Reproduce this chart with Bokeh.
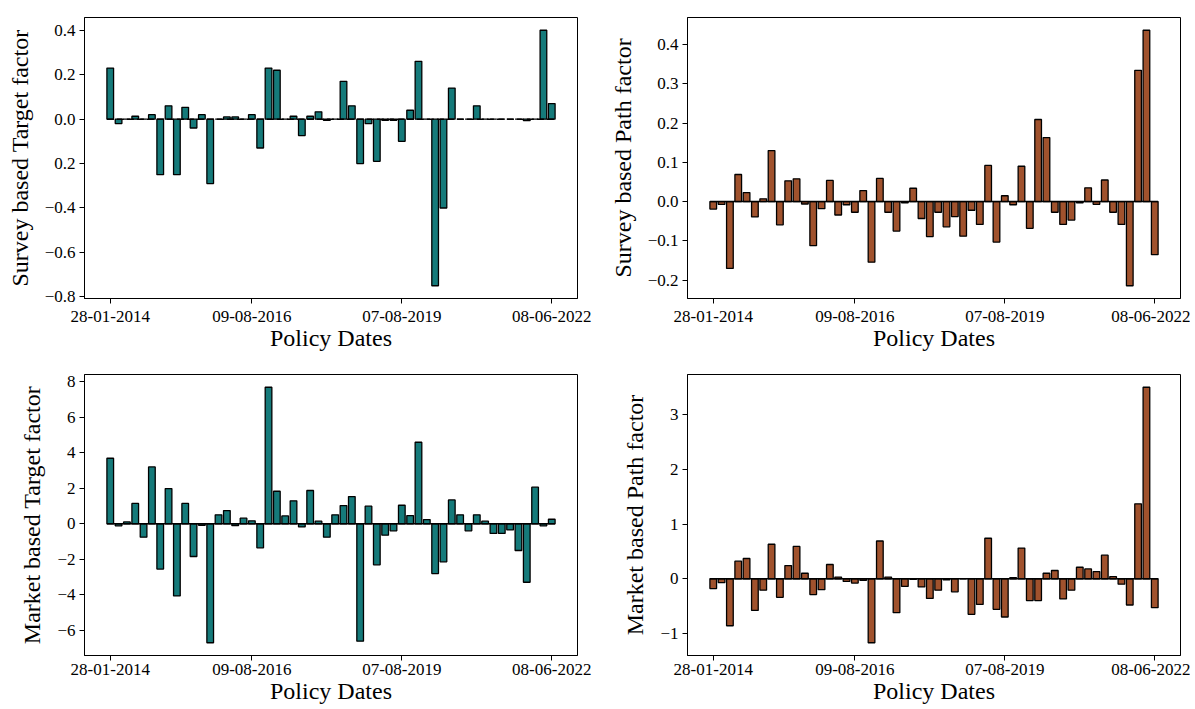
from bokeh.plotting import figure
from bokeh.layouts import column, row
from bokeh.models import Range1d, FixedTicker
from bokeh.embed import file_html
from bokeh.resources import INLINE

# ---- data -------------------------------------------------------------
date_tick_idx = [0, 17, 35, 53]
date_tick_labels = ["28-01-2014", "09-08-2016", "07-08-2019", "08-06-2022"]

survey_target = [0.23, -0.02, 0.0, 0.013, 0.0, 0.02, -0.25, 0.06, -0.25, 0.053,
                 -0.04, 0.02, -0.29, 0.0, 0.01, 0.01, 0.0, 0.02, -0.13, 0.23,
                 0.22, 0.0, 0.013, -0.074, 0.013, 0.033, -0.006, 0.0, 0.17, 0.06,
                 -0.20, -0.02, -0.19, -0.005, -0.005, -0.10, 0.04, 0.26, 0.0, -0.75,
                 -0.40, 0.14, 0.0, 0.0, 0.06, 0.0, 0.0, 0.0, 0.0, 0.0,
                 -0.007, 0.0, 0.40, 0.07]

survey_path = [-0.019, -0.007, -0.17, 0.069, 0.023, -0.039, 0.007, 0.13, -0.059, 0.053,
               0.058, -0.006, -0.112, -0.018, 0.054, -0.034, -0.008, -0.027, 0.028, -0.154,
               0.059, -0.027, -0.075, -0.003, 0.034, -0.043, -0.089, -0.027, -0.064, -0.038,
               -0.088, -0.022, -0.058, 0.092, -0.103, 0.015, -0.008, 0.09, -0.068, 0.209,
               0.163, -0.027, -0.058, -0.047, -0.003, 0.035, -0.007, 0.055, -0.027, -0.058,
               -0.214, 0.334, 0.436, -0.135]

market_target = [3.70, -0.11, 0.11, 1.15, -0.75, 3.21, -2.55, 1.99, -4.06, 1.15,
                 -1.84, -0.08, -6.70, 0.51, 0.75, -0.10, 0.32, 0.17, -1.35, 7.70,
                 1.84, 0.45, 1.30, -0.17, 1.88, 0.15, -0.75, 0.51, 1.03, 1.54,
                 -6.61, 1.00, -2.31, -0.64, -0.39, 1.05, 0.47, 4.60, 0.24, -2.80,
                 -2.14, 1.35, 0.51, -0.39, 0.51, 0.15, -0.54, -0.54, -0.34, -1.50,
                 -3.29, 2.07, -0.11, 0.26]

market_path = [-0.18, -0.07, -0.86, 0.32, 0.37, -0.58, -0.21, 0.63, -0.34, 0.24,
               0.59, 0.10, -0.29, -0.20, 0.26, 0.03, -0.05, -0.08, -0.03, -1.17,
               0.69, 0.03, -0.62, -0.14, -0.01, -0.15, -0.36, -0.21, -0.02, -0.24,
               0.0, -0.65, -0.47, 0.74, -0.56, -0.70, 0.02, 0.56, -0.40, -0.40,
               0.10, 0.15, -0.37, -0.21, 0.21, 0.18, 0.13, 0.43, 0.04, -0.10,
               -0.48, 1.37, 3.50, -0.53]

st_ticks = [0.4, 0.2, 0.0, -0.2, -0.4, -0.6, -0.8]
st_labels = ["0.4", "0.2", "0.0", "0.2", "\u22120.4", "\u22120.6", "\u22120.8"]
sp_ticks = [0.4, 0.3, 0.2, 0.1, 0.0, -0.1, -0.2]
sp_labels = ["0.4", "0.3", "0.2", "0.1", "0.0", "\u22120.1", "\u22120.2"]
mt_ticks = [8, 6, 4, 2, 0, -2, -4, -6]
mt_labels = ["8", "6", "4", "2", "0", "\u22122", "\u22124", "\u22126"]
mp_ticks = [3, 2, 1, 0, -1]
mp_labels = ["3", "2", "1", "0", "\u22121"]

TEAL = "#157a7a"
SIENNA = "#a0522d"
FONT = "Liberation Serif"
BAR_W = 0.8


def make(vals, color, ylabel, yticks, ylabels, dashed, left, right, top, bottom,
         xstand, width, height):
    idx = list(range(len(vals)))
    lo, hi = min(vals), max(vals)
    m = (hi - lo) * 0.05
    xlo, xhi = idx[0] - BAR_W / 2, idx[-1] + BAR_W / 2
    xm = (xhi - xlo) * 0.05
    p = figure(width=width, height=height,
               x_range=Range1d(xlo - xm, xhi + xm),
               y_range=Range1d(lo - m, hi + m),
               output_backend="svg", toolbar_location=None,
               min_border_left=left, min_border_right=right,
               min_border_top=top, min_border_bottom=bottom)
    p.background_fill_color = "white"
    p.border_fill_color = "white"
    p.outline_line_color = "black"
    p.outline_line_width = 1
    p.outline_line_alpha = 1
    p.grid.visible = False

    p.vbar(x=idx, top=vals, bottom=0, width=BAR_W, fill_color=color,
           line_color="black", line_width=1.3)
    if dashed:
        p.segment(x0=[xlo], y0=[0], x1=[xhi], y1=[0], line_color="black",
                  line_width=1.5, line_dash="7 3")
    else:
        p.segment(x0=[xlo], y0=[0], x1=[xhi], y1=[0], line_color="black",
                  line_width=1.5)

    xa = p.xaxis[0]
    xa.ticker = FixedTicker(ticks=date_tick_idx)
    xa.major_label_overrides = dict(zip(date_tick_idx, date_tick_labels))
    xa.axis_label = "Policy Dates"
    xa.major_label_standoff = xstand
    xa.axis_label_standoff = 0

    ya = p.yaxis[0]
    ya.ticker = FixedTicker(ticks=yticks)
    ya.major_label_overrides = dict(zip(yticks, ylabels))
    ya.axis_label = ylabel
    ya.major_label_standoff = 4
    ya.axis_label_standoff = 9

    for ax in (xa, ya):
        ax.axis_line_color = "black"
        ax.axis_line_width = 1
        ax.major_tick_in = 0
        ax.major_tick_out = 5
        ax.major_tick_line_color = "black"
        ax.minor_tick_line_color = None
        ax.major_label_text_font = FONT
        ax.major_label_text_font_size = "17px"
        ax.major_label_text_color = "black"
        ax.axis_label_text_font = FONT
        ax.axis_label_text_font_size = "24px"
        ax.axis_label_text_font_style = "normal"
        ax.axis_label_text_color = "black"
    return p


p1 = make(survey_target, TEAL, "Survey based Target factor", st_ticks, st_labels, True,
          84, 25, 17, 66, 7, 602, 364)
p2 = make(survey_path, SIENNA, "Survey based Path factor", sp_ticks, sp_labels, False,
          85, 10, 17, 66, 7, 588, 364)
p3 = make(market_target, TEAL, "Market based Target factor", mt_ticks, mt_labels, False,
          84, 25, 10, 54, 3, 602, 345)
p4 = make(market_path, SIENNA, "Market based Path factor", mp_ticks, mp_labels, False,
          85, 10, 10, 54, 3, 588, 345)

layout = column(row(p1, p2), row(p3, p4))
open("out.html", "w").write(file_html(layout, INLINE))
